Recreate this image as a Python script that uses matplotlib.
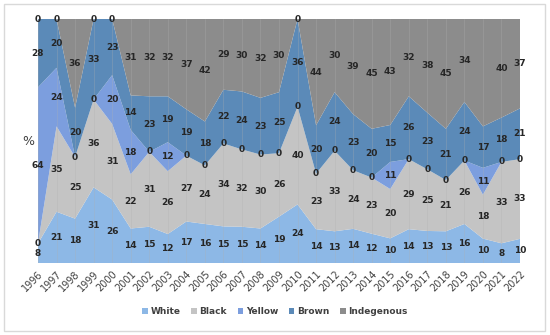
import numpy as np
import matplotlib.pyplot as plt
from matplotlib.patches import Rectangle

years = list(range(1996, 2023))
white = [8, 21, 18, 31, 26, 14, 15, 12, 17, 16, 15, 15, 14, 19, 24, 14, 13, 14, 12, 10, 14, 13, 13, 16, 10, 8, 10]
black = [0, 35, 25, 36, 31, 22, 31, 26, 27, 24, 34, 32, 30, 26, 40, 23, 33, 24, 23, 20, 29, 25, 21, 26, 18, 33, 33]
yellow = [64, 24, 0, 0, 20, 18, 0, 12, 0, 0, 0, 0, 0, 0, 0, 0, 0, 0, 0, 11, 0, 0, 0, 0, 11, 0, 0]
brown = [28, 20, 20, 33, 23, 14, 23, 19, 19, 18, 22, 24, 23, 25, 36, 20, 24, 23, 20, 15, 26, 23, 21, 24, 17, 18, 21]
indigenous = [0, 0, 36, 0, 0, 31, 32, 32, 37, 42, 29, 30, 32, 30, 0, 44, 30, 39, 45, 43, 32, 38, 45, 34, 44, 40, 37]
names = ['White', 'Black', 'Yellow', 'Brown', 'Indegenous']
colors = ['#8db8e6', '#c4c4c4', '#7c9ede', '#5b8ab8', '#8c8c8c']

series = [white, black, yellow, brown, indigenous]
data = np.array(series, dtype=float)
# 100% stacked: normalise each year to 100
pct = data / data.sum(axis=0) * 100

fig = plt.figure(figsize=(5.5, 3.35), dpi=100)
ax = fig.add_axes([38 / 550, 1 - 263 / 335, 482 / 550, 244 / 335])

x = np.arange(len(years))
ax.stackplot(x, *pct, colors=colors, labels=names)

# faint vertical gridlines
for xi in x:
    ax.axvline(xi, color='#b0b0b0', lw=0.4, alpha=0.5, zorder=3)

# value labels in the middle of each band
bottom = np.zeros(len(years))
for s_i in range(len(series)):
    for i in range(len(years)):
        if s_i == 4 and years[i] == 2020:
            continue
        ax.text(x[i], bottom[i] + pct[s_i][i] / 2, str(series[s_i][i]), ha='center', va='center',
                fontsize=6.5, fontweight='bold', color='#262626', zorder=4)
    bottom += pct[s_i]

ax.set_xlim(0, len(years) - 1)
ax.set_ylim(0, 100)
ax.set_yticks([])
ax.set_xticks(x)
ax.set_xticklabels([str(y) for y in years], rotation=45, ha='right', rotation_mode='anchor',
                   fontsize=7, color='#404040')
ax.tick_params(axis='x', length=0, pad=4)
for sp in ax.spines.values():
    sp.set_visible(False)

fig.text(28 / 550, 1 - 142 / 335, '%', fontsize=9, color='#404040', ha='center', va='center')

leg = fig.legend(*ax.get_legend_handles_labels(), loc='center', bbox_to_anchor=(0.5, 1 - 312 / 335),
                 ncol=5, frameon=False, fontsize=6.5, handlelength=0.6, handleheight=0.6,
                 columnspacing=1.2, handletextpad=0.3)
for t in leg.get_texts():
    t.set_color('#404040')
    t.set_fontweight('bold')

# outer frame
fig.patches.append(Rectangle((4 / 550, 4 / 335), 541 / 550, 327 / 335, transform=fig.transFigure,
                             fill=False, edgecolor='#d9d9d9', lw=1))

fig.savefig('out.png', dpi=100)
